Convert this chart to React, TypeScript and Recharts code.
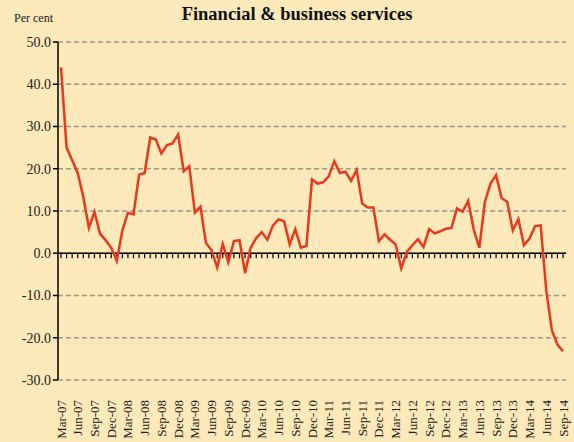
import React from 'react';
import {
  LineChart,
  Line,
  XAxis,
  YAxis,
  CartesianGrid,
  ReferenceLine,
} from 'recharts';

const months = [
  'Mar-07', 'Apr-07', 'May-07', 'Jun-07', 'Jul-07', 'Aug-07', 'Sep-07', 'Oct-07', 'Nov-07', 'Dec-07',
  'Jan-08', 'Feb-08', 'Mar-08', 'Apr-08', 'May-08', 'Jun-08', 'Jul-08', 'Aug-08', 'Sep-08', 'Oct-08', 'Nov-08', 'Dec-08',
  'Jan-09', 'Feb-09', 'Mar-09', 'Apr-09', 'May-09', 'Jun-09', 'Jul-09', 'Aug-09', 'Sep-09', 'Oct-09', 'Nov-09', 'Dec-09',
  'Jan-10', 'Feb-10', 'Mar-10', 'Apr-10', 'May-10', 'Jun-10', 'Jul-10', 'Aug-10', 'Sep-10', 'Oct-10', 'Nov-10', 'Dec-10',
  'Jan-11', 'Feb-11', 'Mar-11', 'Apr-11', 'May-11', 'Jun-11', 'Jul-11', 'Aug-11', 'Sep-11', 'Oct-11', 'Nov-11', 'Dec-11',
  'Jan-12', 'Feb-12', 'Mar-12', 'Apr-12', 'May-12', 'Jun-12', 'Jul-12', 'Aug-12', 'Sep-12', 'Oct-12', 'Nov-12', 'Dec-12',
  'Jan-13', 'Feb-13', 'Mar-13', 'Apr-13', 'May-13', 'Jun-13', 'Jul-13', 'Aug-13', 'Sep-13', 'Oct-13', 'Nov-13', 'Dec-13',
  'Jan-14', 'Feb-14', 'Mar-14', 'Apr-14', 'May-14', 'Jun-14', 'Jul-14', 'Aug-14', 'Sep-14',
];

// annual % change
const growth = [
  44, 25, 22, 19, 13.3, 6, 9.8, 4.6, 3.1, 1.3,
  -1.8, 5.4, 9.6, 9.2, 18.6, 19, 27.4, 26.9, 23.6, 25.6, 26, 28.1,
  19.4, 20.6, 9.6, 11, 2.4, 0.7, -3.4, 2.2, -2.1, 2.9, 3.1, -4.7,
  1.3, 3.6, 5, 3.2, 6.6, 8, 7.6, 2.1, 5.7, 1.3, 1.7, 17.5,
  16.5, 16.8, 18.2, 21.8, 19, 19.3, 17.1, 19.7, 11.8, 10.8, 10.8, 2.9,
  4.5, 3.2, 2.1, -3.6, 0.3, 1.9, 3.3, 1.5, 5.7, 4.7, 5.2, 5.8,
  6, 10.6, 9.8, 12.4, 5.6, 1.3, 12.2, 16.5, 18.5, 13, 12.2, 5.4,
  8.1, 1.9, 3.5, 6.4, 6.6, -8.8, -18.2, -21.6, -23.2,
];

const yTicks = [-30, -20, -10, 0, 10, 20, 30, 40, 50];

const data = months.map((m, i) => ({ month: m, value: growth[i] }));

const FONT = '"Liberation Serif", "Times New Roman", serif';

// quarterly labels only, rotated to read bottom-to-top
const MonthTick = ({ x, y, payload, index }: any) => {
  if (index % 3 !== 0) return null;
  return (
    <text
      transform={`translate(${x},${y + 12}) rotate(-90)`}
      textAnchor="end"
      dy="0.35em"
      fontSize={13}
      fontFamily={FONT}
      fill="#222"
    >
      {payload.value}
    </text>
  );
};

const App: React.FC = () => {
  return (
    <div
      style={{
        position: 'absolute',
        left: 0,
        top: 0,
        width: 574,
        height: 442,
        background: '#fde9b9',
        fontFamily: FONT,
      }}
    >
      <div
        style={{
          position: 'absolute',
          left: 0,
          width: 594,
          top: 4,
          textAlign: 'center',
          fontWeight: 'bold',
          fontSize: 18.5,
          color: '#111',
        }}
      >
        Financial &amp; business services
      </div>
      <div style={{ position: 'absolute', left: 14, top: 11, fontSize: 12, color: '#222' }}>
        Per cent
      </div>
      <LineChart
        width={574}
        height={442}
        data={data}
        margin={{ top: 42, right: 8, bottom: 0, left: 0 }}
      >
        <CartesianGrid
          vertical={false}
          stroke="#999"
          strokeWidth={1.5}
          strokeDasharray="5 3"
        />
        <XAxis
          dataKey="month"
          interval={0}
          height={62}
          padding={{ left: 3, right: 3 }}
          axisLine={false}
          tickLine={false}
          tick={<MonthTick />}
        />
        <YAxis
          width={58}
          domain={[-30, 50]}
          ticks={yTicks}
          tickFormatter={(v: number) => v.toFixed(1)}
          axisLine={{ stroke: '#000', strokeWidth: 1.5 }}
          tickLine={{ stroke: '#000', strokeWidth: 1.5 }}
          tickSize={5}
          tick={{ fontSize: 14, fontFamily: FONT, fill: '#222' }}
        />
        <ReferenceLine y={0} stroke="#000" strokeWidth={1.5} />
        {months.map((m) => (
          <ReferenceLine
            key={m}
            segment={[
              { x: m, y: 0 },
              { x: m, y: -1.2 },
            ]}
            stroke="#000"
            strokeWidth={1.2}
          />
        ))}
        <Line
          type="linear"
          dataKey="value"
          stroke="#e8391e"
          strokeWidth={2.5}
          dot={false}
          isAnimationActive={false}
        />
      </LineChart>
    </div>
  );
};

export default App;
